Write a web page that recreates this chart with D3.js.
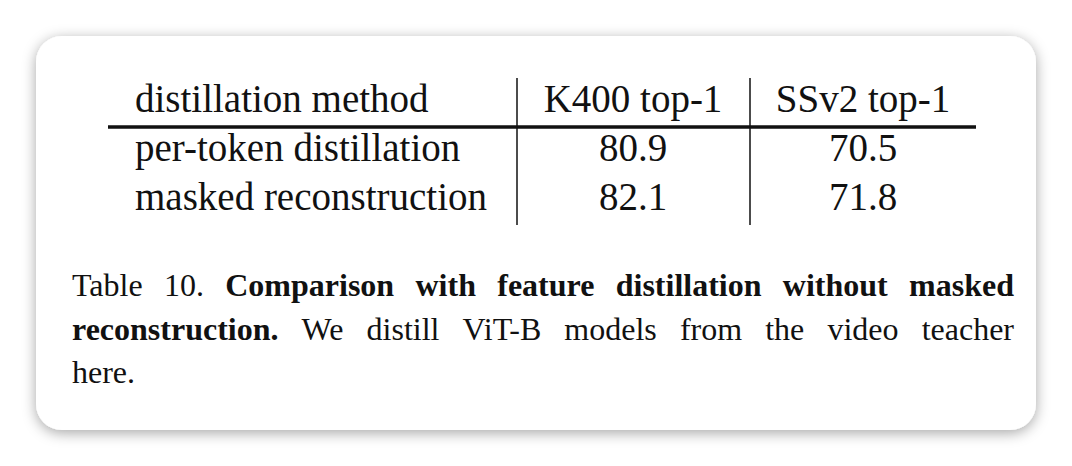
<!DOCTYPE html><html><head><meta charset="utf-8"><script src="https://cdn.jsdelivr.net/npm/d3@7"></script>
<style>body{margin:0;background:#fff}</style></head><body><svg id="c" width="1072" height="466"></svg>
<script>
const columns=["distillation method","K400 top-1","SSv2 top-1"];
const methods=["per-token distillation","masked reconstruction"];
const k400=[80.9,82.1];
const ssv2=[70.5,71.8];
const svg=d3.select("#c");
const defs=svg.append("defs");
const f=defs.append("filter").attr("id","sh").attr("x","-10%").attr("y","-10%").attr("width","120%").attr("height","130%");
f.append("feDropShadow").attr("dx",0).attr("dy",3).attr("stdDeviation",7).attr("flood-color","#000").attr("flood-opacity",0.35);
svg.append("rect").attr("x",36).attr("y",36).attr("width",1000).attr("height",394).attr("rx",26).attr("fill","#fff").attr("filter","url(#sh)");
const font="Liberation Serif, Times New Roman, serif";
const g=svg.append("g").attr("font-family",font).attr("font-size",39).attr("fill","#111");
const x=d3.scaleOrdinal().domain([0,1,2]).range([135,633,863]);
const anchor=["start","middle","middle"];
const y=d3.scalePoint().domain(["h",0,1]).range([112,210]);
columns.forEach((c,i)=>g.append("text").attr("x",x(i)).attr("y",y("h")).attr("text-anchor",anchor[i]).text(c));
methods.forEach((m,r)=>{
  [m,k400[r].toFixed(1),ssv2[r].toFixed(1)].forEach((v,i)=>g.append("text").attr("x",x(i)).attr("y",y(r)).attr("text-anchor",anchor[i]).text(v));
});
svg.append("line").attr("x1",108).attr("x2",976).attr("y1",127).attr("y2",127).attr("stroke","#111").attr("stroke-width",3.5);
[517,750].forEach(v=>svg.append("line").attr("x1",v).attr("x2",v).attr("y1",78).attr("y2",225).attr("stroke","#111").attr("stroke-width",1.5));
const cap=svg.append("g").attr("font-family",font).attr("font-size",32).attr("fill","#111");
const lines=[
 {y:296,just:true,words:[["Table",0],["10.",0],["Comparison",1],["with",1],["feature",1],["distillation",1],["without",1],["masked",1]]},
 {y:340,just:true,words:[["reconstruction.",1],["We",0],["distill",0],["ViT-B",0],["models",0],["from",0],["the",0],["video",0],["teacher",0]]},
 {y:383,just:false,words:[["here.",0]]}
];
lines.forEach(L=>{
  const ts=L.words.map(([w,b])=>cap.append("text").attr("y",L.y).attr("font-weight",b?"bold":"normal").text(w));
  const ws=ts.map(t=>t.node().getComputedTextLength());
  const total=d3.sum(ws);
  const gap=L.just&&ts.length>1?(942-total)/(ts.length-1):8;
  let cx=72;
  ts.forEach((t,i)=>{t.attr("x",cx);cx+=ws[i]+gap;});
});
</script></body></html>
